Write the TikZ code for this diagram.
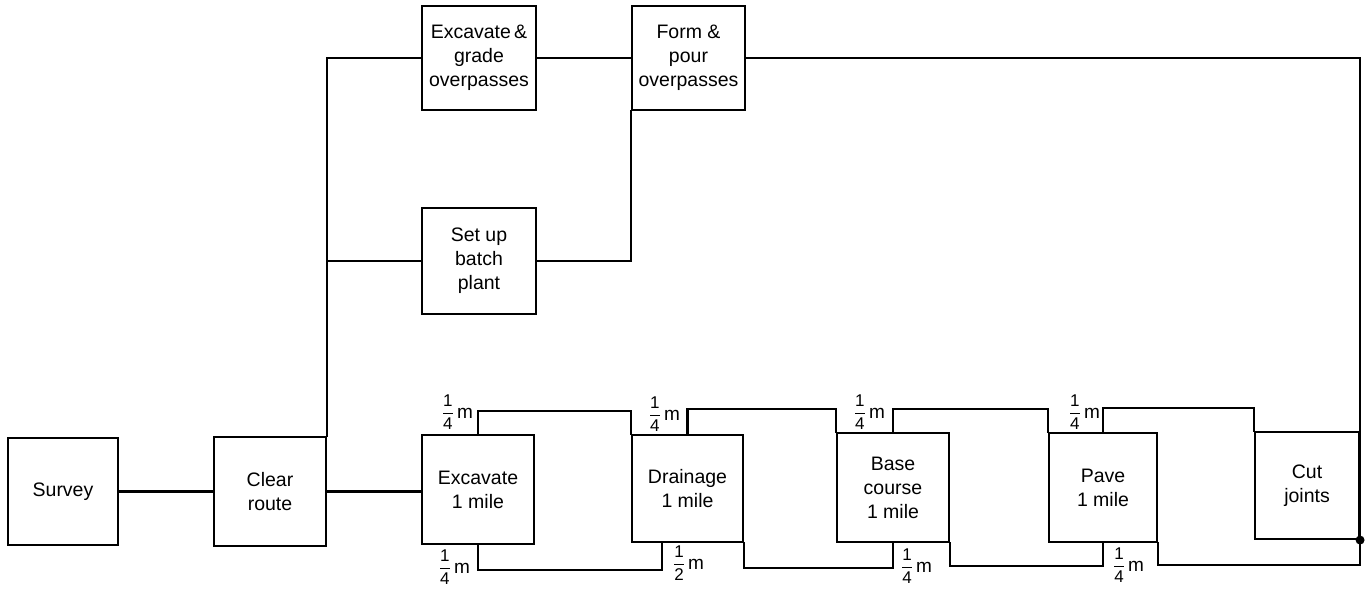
\documentclass[tikz,border=0pt]{standalone}
\usepackage{amsmath}
\usepackage{fontspec}
\setmainfont{Liberation Sans}
\newcommand{\qm}[2]{$\dfrac{\text{\fontsize{17}{17}\selectfont #1}}{\text{\fontsize{17}{17}\selectfont #2}}$\,m}
\begin{document}
\begin{tikzpicture}[x=1pt,y=-1pt,line width=2.3pt,line cap=rect,
  box/.style={draw,rectangle,align=center,inner sep=0pt,font=\fontsize{19.5}{24}\selectfont,line width=2.1pt},
  lab/.style={inner sep=0pt,font=\fontsize{19}{19}\selectfont}]
\useasboundingbox (0,0) rectangle (1365,589);
% boxes
\node[box,minimum width=110pt,minimum height=107pt] (survey) at (63,491.5) {Survey};
\node[box,minimum width=112pt,minimum height=109pt] (clear) at (270,491.5) {Clear\\route};
\node[box,minimum width=114pt,minimum height=104pt] (exg) at (479,58) {Excavate\,\&\\grade\\overpasses};
\node[box,minimum width=113pt,minimum height=104pt] (form) at (688.5,58) {Form \&\\pour\\overpasses};
\node[box,minimum width=114pt,minimum height=106pt] (batch) at (479,261) {Set up\\batch\\plant};
\node[box,minimum width=112pt,minimum height=109pt] (exc) at (478,489.5) {Excavate\\1 mile};
\node[box,minimum width=111pt,minimum height=107pt] (dra) at (687.5,488.5) {Drainage\\1 mile};
\node[box,minimum width=112pt,minimum height=109pt] (base) at (893,487.5) {Base\\course\\1 mile};
\node[box,minimum width=108pt,minimum height=109pt] (pave) at (1103,487.5) {Pave\\1 mile};
\node[box,minimum width=104pt,minimum height=107pt] (cut) at (1307,485.5) {Cut\\joints};
% main connectors
\draw (survey.east) -- (clear.west);
\draw (clear.east) -- (clear.east -| exc.west);
\draw (clear.north east) |- (exg.west);
\coordinate (j) at (clear.north east |- batch.west);
\draw (j) -- (batch.west);
\draw (exg.east) -- (form.west);
\draw (batch.east) -| (form.south west);
\draw (form.east) -| (cut.south east);
\fill (cut.south east) circle (4.5pt);
% top links
\draw (exc.north) -- ++(0,-23) -| (dra.north west);
\draw (dra.north) -- ++(0,-25) -| (base.north west);
\draw (base.north) -- ++(0,-23) -| (pave.north west);
\draw (pave.north) -- ++(0,-24) -| (cut.north west);
% bottom links
\coordinate (db) at ([xshift=31pt]dra.south west);
\draw (exc.south) -- ++(0,25) -| (db);
\draw (dra.south east) -- ++(0,25) -| (base.south);
\draw (base.south east) -- ++(0,23) -| (pave.south);
\draw (pave.south east) -- ++(0,22) -| (cut.south east);
% labels
\node[lab,anchor=base east] (l1) at (474,418) {\qm14};
\node[lab,anchor=base east] (l2) at (681,420) {\qm14};
\node[lab,anchor=base east] (l3) at (886,418) {\qm14};
\node[lab,anchor=base east] (l4) at (1101,418) {\qm14};
\node[lab,anchor=base east] (l5) at (471,573) {\qm14};
\node[lab,anchor=base west] (l6) at (672,569) {\qm12};
\node[lab,anchor=base west] (l7) at (900,572) {\qm14};
\node[lab,anchor=base west] (l8) at (1112,571) {\qm14};
\end{tikzpicture}
\end{document}
